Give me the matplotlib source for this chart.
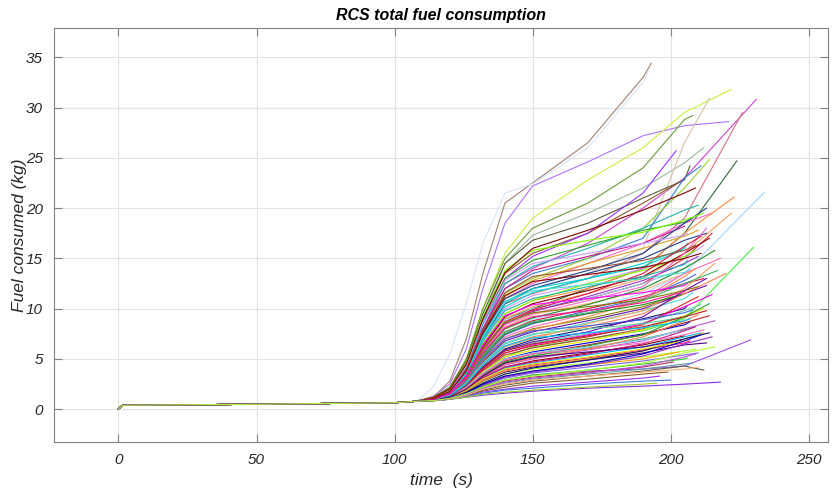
import numpy as np
import matplotlib
matplotlib.use("Agg")
import matplotlib.pyplot as plt

# common part of every run before the RCS starts working hard
t_pre = [0, 1.5, 50, 100, 108]
y_pre = [0.05, 0.4, 0.5, 0.65, 0.8]

# sample times after that, shared by all runs
t_grid = [114, 120, 126, 132, 140, 150, 170, 190, 205]
nan = np.nan

# fuel used (kg) at t_grid for each run
fuel = [
    [1.2, 2.8, 7.0, 13.5, 20.5, 22.5, 26.5, 33.0, nan],
    [2.2, 5.5, 10.5, 16.5, 21.5, 22.4, 26.0, 32.5, nan],
    [1.3, 2.5, 6.0, 12.0, 18.5, 22.2, 24.6, 27.2, 28.2],
    [1.2, 2.2, 5.0, 10.0, 15.5, 19.0, 22.8, 26.0, 29.5],
    [1.2, 2.2, 5.0, 10.0, 15.0, 18.0, 20.5, 24.0, 28.8],
    [1.2, 2.0, 4.5, 9.0, 14.5, 17.3, 19.5, 22.0, 24.5],
    [1.1, 1.8, 4.0, 8.0, 12.5, 14.0, 16.5, 20.0, 23.0],
    [1.1, 1.8, 3.8, 7.5, 10.5, 11.5, 13.0, 15.5, 19.0],
    [1.1, 1.8, 4.0, 8.0, 11.0, 12.0, 13.5, 16.0, 26.5],
    [1.0, 1.6, 3.5, 6.5, 9.0, 10.0, 12.0, 14.0, 17.5],
    [1.0, 1.5, 3.0, 5.5, 7.5, 9.0, 10.0, 11.5, 13.5],
    [0.9, 1.3, 2.2, 3.8, 5.2, 6.2, 7.0, 7.8, 9.0],
    [0.9, 1.1, 1.6, 2.3, 2.9, 3.4, 3.8, 4.0, 4.3],
    [0.85, 1.0, 1.2, 1.4, 1.6, 1.8, 2.1, 2.3, 2.5],
    [1.2, 2.1, 4.8, 9.5, 14.5, 16.8, 18.5, 21.0, 22.8],
    [1.2, 2.0, 4.5, 9.0, 13.5, 15.5, 17.5, 20.5, 22.5],
    [1.1, 1.9, 4.2, 8.5, 13.0, 15.2, 17.5, 21.5, nan],
    [1.1, 1.8, 4.0, 8.0, 12.0, 13.5, 15.0, 17.0, 23.0],
    [1.1, 1.8, 4.0, 7.8, 11.5, 13.0, 15.0, 18.0, 22.0],
    [1.1, 1.9, 4.2, 8.5, 12.5, 14.2, 16.0, 18.0, 19.8],
    [1.1, 1.8, 4.0, 7.5, 11.0, 12.5, 14.5, 16.5, 18.5],
    [1.0, 1.6, 3.4, 6.5, 9.5, 10.8, 12.0, 14.0, 17.5],
    [1.0, 1.6, 3.3, 6.2, 9.0, 10.2, 11.5, 13.0, 15.5],
    [1.0, 1.5, 3.0, 5.8, 8.5, 9.8, 11.0, 12.5, 15.0],
    [1.1, 1.9, 4.3, 8.8, 13.0, 14.8, 16.3, 17.8, 18.6],
    [1.1, 1.8, 4.0, 8.0, 12.0, 13.8, 15.2, 16.5, 18.0],
    [1.1, 1.8, 3.8, 7.5, 11.2, 12.8, 14.5, 16.0, 17.2],
    [1.0, 1.7, 3.6, 7.0, 10.5, 12.0, 13.5, 15.0, 16.8],
    [1.0, 1.7, 3.6, 7.0, 10.2, 11.6, 13.0, 14.5, 16.0],
    [1.0, 1.6, 3.4, 6.8, 10.0, 11.3, 12.5, 14.0, 15.0],
    [1.0, 1.6, 3.4, 6.5, 9.5, 10.8, 12.5, 13.8, 15.2],
    [1.0, 1.6, 3.3, 6.2, 9.2, 10.5, 11.8, 13.2, 15.5],
    [1.0, 1.5, 3.2, 6.0, 8.8, 10.0, 11.0, 12.5, 14.0],
    [1.0, 1.5, 3.1, 5.8, 8.5, 9.7, 11.2, 12.8, 14.5],
    [1.0, 1.5, 3.0, 5.6, 8.2, 9.4, 10.5, 11.8, 13.0],
    [1.0, 1.5, 3.0, 5.5, 8.0, 9.1, 10.4, 12.0, 14.0],
    [1.0, 1.5, 2.9, 5.3, 7.7, 8.8, 10.0, 11.2, 12.5],
    [1.0, 1.4, 2.8, 5.1, 7.4, 8.5, 9.8, 11.0, 12.8],
    [0.95, 1.4, 2.8, 5.0, 7.2, 8.2, 9.5, 11.0, 13.5],
    [0.95, 1.4, 2.7, 4.8, 7.0, 8.0, 9.0, 10.2, 11.2],
    [0.95, 1.4, 2.6, 4.7, 6.8, 7.7, 8.8, 10.0, 11.5],
    [0.95, 1.4, 2.6, 4.5, 6.5, 7.4, 8.6, 9.8, 11.0],
    [0.95, 1.3, 2.5, 4.4, 6.3, 7.2, 8.2, 9.5, 11.5],
    [0.95, 1.3, 2.4, 4.2, 6.0, 6.9, 8.0, 9.0, 10.0],
    [0.95, 1.3, 2.4, 4.1, 5.8, 6.6, 7.5, 8.6, 9.8],
    [0.9, 1.3, 2.3, 3.9, 5.6, 6.4, 7.4, 8.5, 10.2],
    [0.9, 1.3, 2.2, 3.8, 5.4, 6.1, 7.0, 8.0, 9.0],
    [0.9, 1.3, 2.2, 3.7, 5.2, 5.9, 6.8, 7.9, 9.3],
    [0.9, 1.2, 2.1, 3.5, 5.0, 5.7, 6.6, 7.5, 8.4],
    [0.9, 1.2, 2.1, 3.4, 4.8, 5.5, 6.4, 7.4, 8.6],
    [0.9, 1.2, 2.0, 3.3, 4.6, 5.3, 6.1, 7.0, 7.9],
    [0.9, 1.2, 2.0, 3.2, 4.4, 5.0, 5.9, 6.8, 8.0],
    [0.9, 1.2, 1.9, 3.1, 4.2, 4.8, 5.6, 6.4, 7.1],
    [0.9, 1.2, 1.9, 3.0, 4.1, 4.6, 5.4, 6.2, 7.2],
    [0.9, 1.15, 1.8, 2.9, 3.9, 4.4, 5.1, 5.9, 6.6],
    [0.9, 1.15, 1.8, 2.8, 3.7, 4.2, 4.9, 5.6, 6.4],
    [0.9, 1.15, 1.7, 2.6, 3.5, 4.0, 4.6, 5.2, 5.8],
    [0.88, 1.1, 1.7, 2.5, 3.3, 3.8, 4.4, 5.0, 5.6],
    [0.88, 1.1, 1.6, 2.4, 3.1, 3.6, 4.2, 4.8, 5.4],
    [0.88, 1.1, 1.6, 2.3, 2.9, 3.4, 3.9, 4.5, 5.0],
    [0.88, 1.1, 1.5, 2.2, 2.8, 3.2, 3.7, 4.2, 4.6],
    [0.88, 1.05, 1.5, 2.1, 2.6, 3.0, 3.5, 4.0, 4.5],
    [0.85, 1.05, 1.4, 1.9, 2.4, 2.8, 3.3, 3.8, 4.3],
    [0.85, 1.0, 1.4, 1.8, 2.2, 2.6, 3.0, 3.5, nan],
    [0.85, 1.0, 1.3, 1.7, 2.0, 2.3, 2.7, 3.1, nan],
    [0.85, 1.0, 1.25, 1.6, 1.9, 2.1, 2.5, 2.8, nan],
    [0.85, 1.0, 1.2, 1.5, 1.7, 1.9, 2.2, 2.5, nan],
    [1.0, 1.6, 3.5, 6.8, 9.8, 11.0, 12.2, 13.2, 14.4],
    [1.0, 1.5, 3.0, 5.7, 8.4, 9.5, 10.8, 12.2, 15.5],
    [0.95, 1.4, 2.7, 4.9, 7.0, 7.9, 9.2, 10.8, 13.2],
    [0.95, 1.3, 2.5, 4.4, 6.2, 7.0, 8.5, 9.8, 12.0],
    [0.9, 1.3, 2.3, 4.0, 5.6, 6.3, 7.2, 8.4, 10.5],
    [0.9, 1.2, 2.0, 3.4, 4.7, 5.3, 6.3, 7.4, 9.2],
    [0.9, 1.2, 1.9, 3.1, 4.2, 4.7, 5.5, 6.5, 7.8],
    [0.9, 1.15, 1.8, 2.8, 3.8, 4.3, 5.0, 5.8, 7.0],
    [1.05, 1.7, 3.8, 7.5, 11.0, 12.3, 13.8, 15.5, 18.5],
    [1.05, 1.7, 3.7, 7.2, 10.7, 12.0, 13.0, 14.2, 15.5],
    [1.1, 1.9, 4.3, 8.7, 12.8, 14.5, 15.5, 16.5, 17.3],
    [1.15, 2.0, 4.6, 9.2, 13.8, 15.8, 16.8, 17.6, 18.8],
    [1.15, 2.0, 4.5, 9.0, 13.6, 16.0, 17.8, 19.8, 21.5],
    [0.9, 1.25, 2.2, 3.6, 5.0, 5.6, 6.2, 6.9, 7.6],
    [0.88, 1.1, 1.6, 2.4, 3.2, 3.7, 4.4, 5.3, 6.5],
    [0.85, 1.05, 1.4, 2.0, 2.5, 2.9, 3.3, 3.7, 4.0],
    [0.95, 1.45, 2.9, 5.2, 7.5, 8.6, 9.5, 10.4, 11.2],
    [1.0, 1.55, 3.2, 6.0, 8.7, 9.9, 11.5, 13.5, 16.2],
    [0.95, 1.4, 2.8, 5.0, 7.0, 7.8, 8.3, 8.9, 9.6],
    [0.9, 1.25, 2.1, 3.5, 4.9, 5.5, 6.0, 6.6, 7.4],
    [1.0, 1.55, 3.1, 5.9, 8.6, 9.6, 10.2, 10.9, 11.8],
    [0.92, 1.3, 2.4, 4.2, 5.9, 6.7, 7.7, 9.2, 11.8],
    [1.05, 1.7, 3.7, 7.3, 10.6, 11.8, 12.4, 13.0, 13.6],
    [0.9, 1.2, 2.0, 3.3, 4.5, 5.1, 6.0, 7.2, 8.8],
    [0.88, 1.1, 1.7, 2.6, 3.5, 4.1, 4.9, 5.8, 7.0],
    [0.95, 1.35, 2.6, 4.6, 6.6, 7.5, 8.0, 8.5, 9.0],
    [1.0, 1.6, 3.3, 6.4, 9.3, 10.4, 11.0, 11.6, 12.3],
    [1.1, 1.8, 3.9, 7.8, 11.6, 13.2, 14.0, 14.8, 15.8],
    [0.9, 1.2, 1.9, 3.0, 4.0, 4.5, 5.2, 6.0, 6.8],
    [0.88, 1.1, 1.6, 2.5, 3.3, 3.8, 4.5, 5.5, 6.8],
    [0.92, 1.3, 2.4, 4.1, 5.8, 6.5, 7.3, 8.2, 9.2],
    [0.97, 1.45, 2.9, 5.3, 7.7, 8.7, 9.6, 10.8, 12.5],
    [0.86, 1.05, 1.5, 2.1, 2.7, 3.1, 3.6, 4.3, 5.2],
    [1.05, 1.75, 3.8, 7.6, 11.3, 12.7, 13.4, 14.1, 15.0],
    [0.93, 1.35, 2.5, 4.4, 6.3, 7.1, 7.6, 8.1, 8.8],
    [0.98, 1.5, 3.0, 5.6, 8.1, 9.2, 9.8, 10.6, 11.5],
    [0.9, 1.2, 2.0, 3.3, 4.6, 5.2, 5.7, 6.2, 6.8],
    [0.87, 1.08, 1.55, 2.2, 2.9, 3.3, 3.9, 4.6, 5.6],
]

# end of each run: time (s) and fuel (kg)
t_end = [193, 192, 221, 222, 208, 212, 231, 226, 214, 224, 234, 230, 229, 218,
         207, 204, 202, 211, 214, 210, 215, 223, 222, 215, 208, 205, 210, 213,
         206, 212, 209, 214, 207, 210, 203, 216, 212, 209, 218, 205, 213, 208,
         220, 206, 211, 215, 204, 212, 207, 214, 208, 216, 205, 211, 207, 213,
         209, 203, 210, 206, 201, 208, 212, 199, 196, 200, 195, 206, 213, 209,
         216, 210, 214, 209, 212, 213, 204, 206, 212, 209, 203, 215, 210, 204, 211,
         208, 212, 210, 213, 207, 210, 214, 203, 206, 209, 206, 211, 213, 217,
         209, 211, 207, 205, 204, 216]
y_end = [34.4, 33.6, 28.6, 31.8, 29.2, 26.0, 30.8, 29.5, 30.9, 24.7, 21.6, 16.1, 6.9, 2.7,
         24.2, 22.7, 25.7, 24.2, 24.8, 20.3, 19.5, 21.1, 19.5, 17.5, 19.0, 18.2, 17.8, 17.5,
         16.5, 16.3, 15.8, 17.0, 14.5, 15.2, 13.3, 15.8, 13.0, 13.4, 15.0, 11.5, 12.3, 11.6,
         13.5, 10.3, 10.4, 11.4, 9.2, 10.0, 8.7, 9.3, 8.2, 8.8, 7.3, 7.6, 6.8, 6.6,
         6.0, 5.7, 5.6, 5.1, 4.7, 4.6, 3.9, 3.7, 3.3, 2.9, 2.6, 14.8, 18.0, 14.0,
         14.5, 11.2, 10.5, 8.2, 7.6, 20.0, 15.8, 17.5, 19.5, 22.0, 7.8, 7.2, 4.2, 11.4, 17.2,
         9.9, 7.9, 12.2, 13.0, 13.9, 9.4, 7.6, 9.1, 12.5, 16.3, 6.9, 7.4, 9.8, 13.8,
         5.5, 15.5, 9.0, 11.7, 6.9, 6.2]

# line colours (first ones picked to match the distinctive runs)
special = ['#a08070', '#d8e4f8', '#b070ff', '#c8f040', '#6a9a3a', '#9ab89a',
           '#cc44cc', '#d07080', '#d8c0a8', '#2e6a3a', '#a8d4ff', '#44ee44',
           '#a050f0', '#8a2be2']
palette = ['#5a5a3a', '#8b5a2b', '#9b30ff', '#3a7fd5', '#9acd32', '#20b2aa',
           '#ff66cc', '#ff8c40', '#f4a460', '#d62728', '#2ca02c', '#c71585',
           '#daa520', '#1f3f8f', '#00ced1', '#c89bff', '#7fff00', '#800000',
           '#87ceeb', '#9932cc', '#ffb07a', '#228b22', '#dc143c', '#4169e1',
           '#ff69b4', '#808000', '#6a0dad', '#40e0d0', '#ff7f50', '#191970',
           '#66cdaa', '#ff00ff', '#a0522d', '#e6e600', '#0000cd', '#b22222',
           '#3cb371', '#ba55d3', '#8b0000', '#00bfff', '#ff1493', '#4b0082',
           '#adff2f', '#ffa500', '#7b68ee', '#32cd32', '#b03060', '#5f9ea0']

fig = plt.figure(figsize=(8.33, 4.93), dpi=100)
ax = fig.add_axes([0.065, 0.1035, 0.929, 0.8395])

for i, row in enumerate(fuel):
    ts = list(t_pre)
    ys = list(y_pre)
    for tg, v in zip(t_grid, row):
        if tg < t_end[i] and not np.isnan(v):
            ts.append(tg)
            ys.append(v)
    ts.append(t_end[i])
    ys.append(y_end[i])
    if i < len(special):
        c = special[i]
    else:
        c = palette[(i - len(special)) % len(palette)]
    ax.plot(ts, ys, color=c, lw=0.8)

ax.set_xlim(-23.3, 257)
ax.set_ylim(-3.25, 37.9)
ax.set_xticks([0, 50, 100, 150, 200, 250])
ax.set_yticks([0, 5, 10, 15, 20, 25, 30, 35])
ax.grid(True, color='#e3e3e3', lw=0.8)
ax.set_axisbelow(True)
ax.tick_params(direction='in', length=6, top=True, right=True, color='#808080',
               labelcolor='#262626', labelsize=11, pad=8)
for lab in ax.get_xticklabels() + ax.get_yticklabels():
    lab.set_fontstyle('italic')
    lab.set_family('Liberation Sans')
for s in ax.spines.values():
    s.set_color('#808080')

ax.set_xlabel('time  (s)', fontsize=12.5, style='italic', family='Liberation Sans',
              color='#262626', labelpad=4)
ax.set_ylabel('Fuel consumed (kg)', fontsize=12.5, style='italic', family='Liberation Sans',
              color='#262626', labelpad=-1)
ax.set_title('RCS total fuel consumption', fontsize=11.5, style='italic', weight='bold',
             family='Liberation Sans', pad=6)

plt.savefig('out.png', dpi=100)
